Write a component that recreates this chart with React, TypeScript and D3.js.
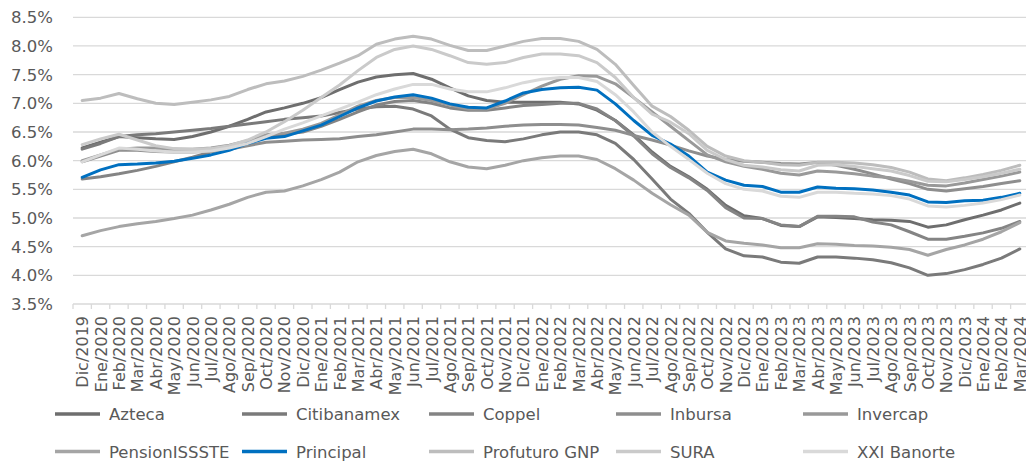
import { useEffect, useRef } from 'react';
import * as d3 from 'd3';

const months = [
  'Dic/2019', 'Ene/2020', 'Feb/2020', 'Mar/2020', 'Abr/2020', 'May/2020', 'Jun/2020', 'Jul/2020', 'Ago/2020',
  'Sep/2020', 'Oct/2020', 'Nov/2020', 'Dic/2020', 'Ene/2021', 'Feb/2021', 'Mar/2021', 'Abr/2021', 'May/2021',
  'Jun/2021', 'Jul/2021', 'Ago/2021', 'Sep/2021', 'Oct/2021', 'Nov/2021', 'Dic/2021', 'Ene/2022', 'Feb/2022',
  'Mar/2022', 'Abr/2022', 'May/2022', 'Jun/2022', 'Jul/2022', 'Ago/2022', 'Sep/2022', 'Oct/2022', 'Nov/2022',
  'Dic/2022', 'Ene/2023', 'Feb/2023', 'Mar/2023', 'Abr/2023', 'May/2023', 'Jun/2023', 'Jul/2023', 'Ago/2023',
  'Sep/2023', 'Oct/2023', 'Nov/2023', 'Dic/2023', 'Ene/2024', 'Feb/2024', 'Mar/2024',
];

const yTicks = [3.5, 4.0, 4.5, 5.0, 5.5, 6.0, 6.5, 7.0, 7.5, 8.0, 8.5];

const azteca = [6.22, 6.32, 6.42, 6.4, 6.38, 6.37, 6.42, 6.5, 6.6, 6.72, 6.85, 6.92, 7.0, 7.1, 7.24, 7.37, 7.46, 7.5, 7.52, 7.42, 7.27, 7.13, 7.05, 7.02, 7.02, 7.02, 7.02, 6.99, 6.88, 6.7, 6.45, 6.15, 5.9, 5.72, 5.5, 5.22, 5.04, 4.99, 4.87, 4.85, 5.02, 5.01, 4.99, 4.97, 4.96, 4.94, 4.84, 4.88, 4.97, 5.05, 5.14, 5.26];
const citibanamex = [6.2, 6.3, 6.42, 6.45, 6.47, 6.5, 6.53, 6.56, 6.6, 6.64, 6.68, 6.72, 6.75, 6.78, 6.84, 6.9, 6.94, 6.95, 6.9, 6.78, 6.55, 6.4, 6.35, 6.33, 6.38, 6.45, 6.5, 6.5, 6.45, 6.3, 6.02, 5.68, 5.33, 5.08, 4.75, 4.46, 4.34, 4.32, 4.23, 4.21, 4.32, 4.32, 4.3, 4.27, 4.22, 4.13, 4.0, 4.03, 4.1, 4.19, 4.3, 4.46];
const coppel = [5.68, 5.72, 5.77, 5.83, 5.9, 5.98, 6.06, 6.15, 6.22, 6.3, 6.42, 6.46, 6.5, 6.6, 6.72, 6.85, 6.97, 7.03, 7.05, 7.0, 6.92, 6.88, 6.88, 6.92, 6.96, 6.98, 7.0, 7.0, 6.9, 6.7, 6.43, 6.12, 5.88, 5.7, 5.48, 5.18, 5.0, 4.99, 4.88, 4.85, 5.03, 5.03, 5.02, 4.93, 4.88, 4.76, 4.63, 4.63, 4.68, 4.74, 4.82, 4.94];
const inbursa = [5.98, 6.08, 6.18, 6.18, 6.16, 6.15, 6.15, 6.17, 6.2, 6.26, 6.32, 6.34, 6.36, 6.37, 6.38, 6.42, 6.45, 6.5, 6.55, 6.55, 6.54, 6.55, 6.57, 6.6, 6.62, 6.63, 6.63, 6.62, 6.58, 6.53, 6.44, 6.36, 6.27, 6.17, 6.08, 6.02, 5.99, 5.97, 5.95, 5.94, 5.97, 5.92, 5.85, 5.77, 5.68, 5.6, 5.5, 5.47, 5.51, 5.55, 5.6, 5.65];
const invercap = [6.0, 6.1, 6.2, 6.22, 6.22, 6.2, 6.2, 6.22, 6.27, 6.35, 6.45, 6.48, 6.55, 6.65, 6.8, 6.95, 7.05, 7.1, 7.1, 7.05, 6.97, 6.9, 6.9, 7.0, 7.15, 7.3, 7.42, 7.48, 7.47, 7.34, 7.1, 6.85, 6.6, 6.35, 6.1, 5.98, 5.9, 5.85, 5.78, 5.75, 5.82, 5.8, 5.77, 5.73, 5.7, 5.64, 5.57, 5.56, 5.61, 5.67, 5.73, 5.8];
const pensionissste = [4.69, 4.78, 4.85, 4.9, 4.94, 4.99, 5.05, 5.14, 5.24, 5.36, 5.45, 5.47, 5.56, 5.67, 5.8, 5.98, 6.09, 6.16, 6.2, 6.12, 5.98, 5.89, 5.86, 5.92, 6.0, 6.05, 6.08, 6.08, 6.02, 5.86, 5.66, 5.43, 5.23, 5.05, 4.75, 4.6, 4.56, 4.53, 4.48, 4.48, 4.55, 4.54, 4.52, 4.51, 4.49, 4.45, 4.35, 4.45, 4.53, 4.63, 4.76, 4.92];
const principal = [5.71, 5.84, 5.93, 5.94, 5.96, 5.99, 6.04, 6.1, 6.18, 6.3, 6.39, 6.42, 6.52, 6.62, 6.77, 6.92, 7.04, 7.11, 7.15, 7.09, 6.99, 6.93, 6.92, 7.04, 7.18, 7.24, 7.27, 7.28, 7.23, 6.99, 6.7, 6.44, 6.29, 6.08, 5.8, 5.66, 5.57, 5.55, 5.45, 5.45, 5.54, 5.52, 5.51, 5.49, 5.45, 5.4, 5.28, 5.27, 5.3, 5.31, 5.36, 5.43];
const profuturo = [7.05, 7.09, 7.17, 7.08, 7.0, 6.98, 7.02, 7.06, 7.12, 7.24, 7.34, 7.39, 7.47, 7.58, 7.7, 7.83, 8.03, 8.12, 8.17, 8.12, 8.01, 7.92, 7.92, 8.0, 8.08, 8.13, 8.13, 8.08, 7.94, 7.68, 7.31, 6.95, 6.77, 6.53, 6.25, 6.08, 6.0, 5.97, 5.93, 5.92, 5.97, 5.97, 5.96, 5.93, 5.88, 5.8, 5.68, 5.65, 5.7, 5.76, 5.83, 5.92];
const sura = [6.28, 6.38, 6.46, 6.36, 6.26, 6.21, 6.2, 6.21, 6.26, 6.36, 6.5, 6.68, 6.88, 7.1, 7.32, 7.57, 7.8, 7.94, 8.0, 7.94, 7.83, 7.71, 7.68, 7.71, 7.8, 7.86, 7.86, 7.83, 7.71, 7.45, 7.1, 6.81, 6.67, 6.47, 6.18, 6.02, 5.92, 5.89, 5.84, 5.82, 5.92, 5.93, 5.9, 5.86, 5.82, 5.74, 5.64, 5.63, 5.67, 5.72, 5.78, 5.85];
const xxiBanorte = [5.98, 6.1, 6.22, 6.2, 6.17, 6.15, 6.15, 6.17, 6.22, 6.3, 6.42, 6.55, 6.66, 6.78, 6.9, 7.02, 7.15, 7.25, 7.33, 7.33, 7.25, 7.2, 7.2, 7.27, 7.36, 7.42, 7.45, 7.45, 7.38, 7.15, 6.85, 6.5, 6.25, 6.02, 5.78, 5.6, 5.5, 5.47, 5.38, 5.36, 5.45, 5.45, 5.43, 5.42, 5.39, 5.33, 5.21, 5.19, 5.22, 5.26, 5.32, 5.4];

const seriesNames = ['Azteca', 'Citibanamex', 'Coppel', 'Inbursa', 'Invercap', 'PensionISSSTE', 'Principal', 'Profuturo GNP', 'SURA', 'XXI Banorte'];
const seriesValues = [azteca, citibanamex, coppel, inbursa, invercap, pensionissste, principal, profuturo, sura, xxiBanorte];
const seriesColors = ['#6e6e6e', '#7a7a7a', '#848484', '#8e8e8e', '#999999', '#a5a5a5', '#0070c0', '#bdbdbd', '#cacaca', '#d9d9d9'];

export default function App() {
  const svgRef = useRef<SVGSVGElement>(null);
  const width = 1026;
  const height = 462;

  useEffect(() => {
    if (!svgRef.current) return;
    const svg = d3.select(svgRef.current);
    svg.selectAll('*').remove();

    const font = '"DejaVu Sans", sans-serif';
    const textColor = '#595959';

    const xScale = d3.scaleBand<string>().domain(months).range([73, 1029]);
    const yScale = d3.scaleLinear().domain([3.5, 8.5]).range([304, 17.3]);
    const xc = (m: string) => (xScale(m) || 0) + xScale.bandwidth() / 2;

    // gridlines
    svg.append('g')
      .selectAll('line')
      .data(yTicks)
      .enter().append('line')
      .attr('x1', 73).attr('x2', 1029)
      .attr('y1', d => yScale(d)).attr('y2', d => yScale(d))
      .attr('stroke', '#d9d9d9')
      .attr('stroke-width', 1.3);

    // tick marks under the axis
    svg.append('g')
      .selectAll('line')
      .data(months.concat(['end']))
      .enter().append('line')
      .attr('x1', (d, i) => 73 + i * xScale.step())
      .attr('x2', (d, i) => 73 + i * xScale.step())
      .attr('y1', yScale(3.5)).attr('y2', yScale(3.5) + 5)
      .attr('stroke', '#d9d9d9')
      .attr('stroke-width', 1.3);

    // y labels
    svg.append('g')
      .selectAll('text')
      .data(yTicks)
      .enter().append('text')
      .attr('x', 53)
      .attr('y', d => yScale(d) + 6)
      .attr('text-anchor', 'end')
      .style('font-family', font)
      .style('font-size', '16.5px')
      .attr('fill', textColor)
      .text(d => d.toFixed(1) + '%');

    // x labels
    svg.append('g')
      .selectAll('text')
      .data(months)
      .enter().append('text')
      .attr('transform', d => `translate(${xc(d) + 6},316) rotate(-90)`)
      .attr('text-anchor', 'end')
      .style('font-family', font)
      .style('font-size', '16px')
      .attr('fill', textColor)
      .text(d => d);

    // lines
    const line = d3.line<number>()
      .x((d, i) => xc(months[i]))
      .y(d => yScale(d));

    seriesValues.forEach((vals, s) => {
      svg.append('path')
        .datum(vals)
        .attr('fill', 'none')
        .attr('stroke', seriesColors[s])
        .attr('stroke-width', 3)
        .attr('stroke-linejoin', 'round')
        .attr('stroke-linecap', 'round')
        .attr('d', line);
    });

    // legend
    const legend = svg.append('g');
    seriesNames.forEach((name, i) => {
      const col = i % 5;
      const row = Math.floor(i / 5);
      const x0 = 55 + col * 187;
      const y0 = 414 + row * 37.5;
      const item = legend.append('g').attr('transform', `translate(${x0},${y0})`);
      item.append('line')
        .attr('x1', 0).attr('x2', 45)
        .attr('y1', 0).attr('y2', 0)
        .attr('stroke', seriesColors[i])
        .attr('stroke-width', 3.5);
      item.append('text')
        .attr('x', 54)
        .attr('y', 6)
        .style('font-family', font)
        .style('font-size', '16.5px')
        .attr('fill', textColor)
        .text(name);
    });
  }, []);

  return (
    <svg
      ref={svgRef}
      width={width}
      height={height}
      style={{ position: 'absolute', left: 0, top: 0, background: '#ffffff' }}
    />
  );
}
